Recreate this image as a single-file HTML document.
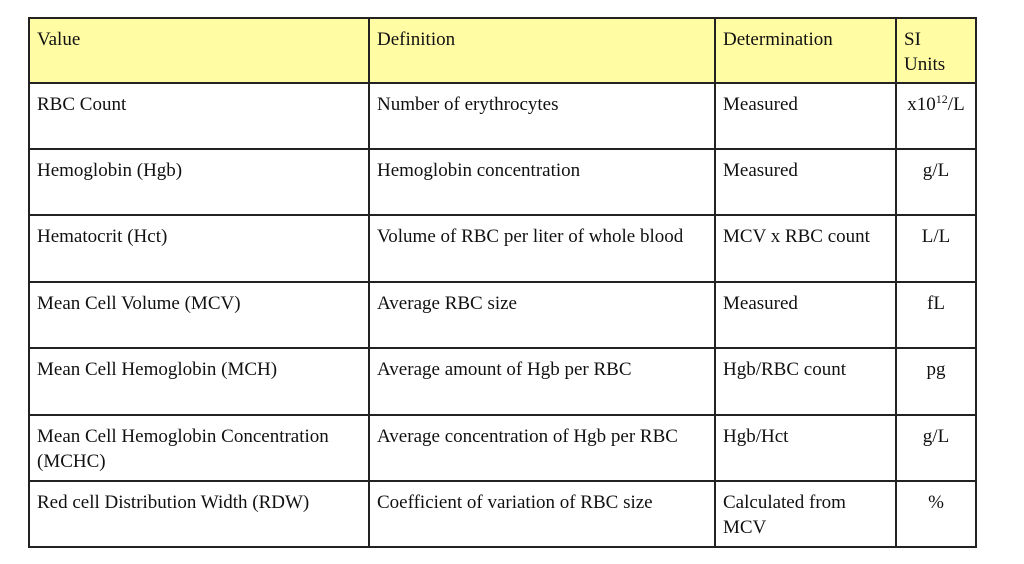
<!DOCTYPE html>
<html><head><meta charset="utf-8"><style>
body{margin:0;width:1024px;height:564px;background:#fff;position:relative;overflow:hidden;font-family:"Liberation Serif",serif;font-size:19px;color:#111}
.l{position:absolute;background:#222}
.c{position:absolute;line-height:25px;white-space:nowrap}
.c sup{font-size:12px;line-height:0;vertical-align:0;position:relative;top:-7px}
.hdr{position:absolute;left:29px;top:18px;width:947px;height:65px;background:#fffca3}
</style></head><body>
<div class="hdr"></div>
<div id="grid"></div>
<div id="cells"></div>
<script>
const rowsY=[18,83,149,215,282,348,415,481,547];
const colsX=[29,369,715,896,976];
const data=[
["Value","Definition","Determination","SI<br>Units"],
["RBC Count","Number of erythrocytes","Measured","x10<sup>12</sup>/L"],
["Hemoglobin (Hgb)","Hemoglobin concentration","Measured","g/L"],
["Hematocrit (Hct)","Volume of RBC per liter of whole blood","MCV x RBC count","L/L"],
["Mean Cell Volume (MCV)","Average RBC size","Measured","fL"],
["Mean Cell Hemoglobin (MCH)","Average amount of Hgb per RBC","Hgb/RBC count","pg"],
["Mean Cell Hemoglobin Concentration<br>(MCHC)","Average concentration of Hgb per RBC","Hgb/Hct","g/L"],
["Red cell Distribution Width (RDW)","Coefficient of variation of RBC size","Calculated from<br>MCV","%"]
];
const g=document.getElementById('grid');
rowsY.forEach(y=>{const d=document.createElement('div');d.className='l';


d.style.cssText=`left:${colsX[0]-1}px;top:${y-1}px;width:${colsX[4]-colsX[0]+2}px;height:2px`;g.appendChild(d);});
colsX.forEach(x=>{const d=document.createElement('div');d.className='l';


d.style.cssText=`left:${x-1}px;top:${rowsY[0]-1}px;width:2px;height:${rowsY[8]-rowsY[0]+2}px`;g.appendChild(d);});
const cs=document.getElementById('cells');
data.forEach((r,i)=>r.forEach((t,j)=>{const d=document.createElement('div');d.className='c';


d.innerHTML=t;
if(j==3&&i>0){d.style.left=colsX[3]+'px';d.style.width=(colsX[4]-colsX[3])+'px';d.style.textAlign='center';}
else d.style.left=(colsX[j]+8)+'px';
d.style.top=(rowsY[i]+9)+'px';cs.appendChild(d);}));
</script>
</body></html>
